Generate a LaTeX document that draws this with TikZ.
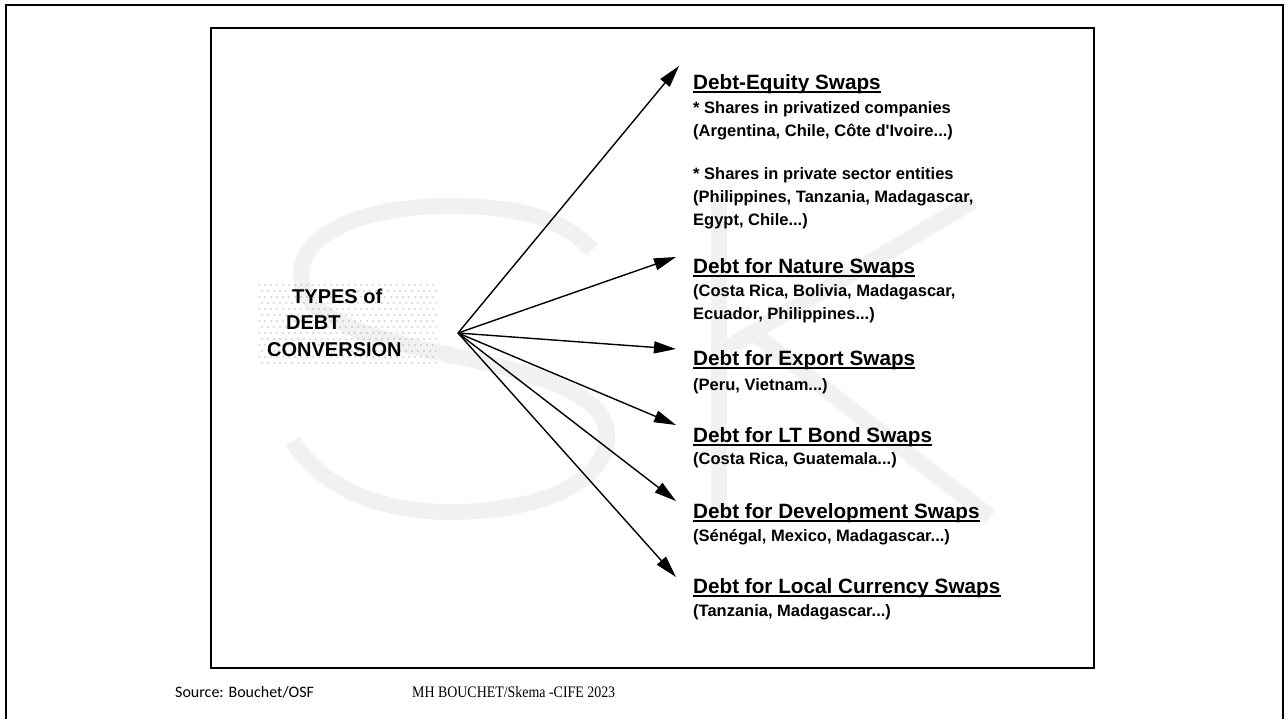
\documentclass[tikz,border=0pt]{standalone}
\usepackage{fontspec}
\setmainfont{Liberation Sans}
\newfontfamily\srcfont{Carlito}
\newfontfamily\credfont{Liberation Serif}
\usepackage{graphicx}
\usetikzlibrary{arrows.meta}
\usetikzlibrary{positioning}
\tikzset{frame/.style = {line width = 2.6pt}}
\tikzset{wmark/.style = {wmgray, line width = 16pt}}
\tikzset{head/.style = {anchor = base west, inner sep = 0, font = \fontsize{20.7}{24}\selectfont\bfseries}}
\tikzset{sub/.style = {anchor = base west, inner sep = 0, font = \fontsize{16.5}{20}\selectfont\bfseries}}
\tikzset{boxtxt/.style = {anchor = base west, inner sep = 0, font = \fontsize{20}{24}\selectfont\bfseries}}
\tikzset{uline/.style = {line width = 1.3pt}}
\tikzset{swap/.style = {-{Triangle[length = 22pt, width = 12pt]}, line width = 1.4pt}}
\definecolor{wmgray}{RGB}{239, 242, 239}
\definecolor{dotgray}{RGB}{120, 120, 120}

\begin{document}
\begin{tikzpicture}[x=1pt, y=-1pt]
  \useasboundingbox (0, 0) rectangle (1287, 718);

  % watermark
  \draw [wmark] (592, 250) .. controls (560, 215) and (510, 206) .. (450, 206)
    .. controls (360, 206) and (301, 235) .. (301, 274)
    .. controls (301, 322) and (380, 340) .. (450, 355)
    .. controls (560, 378) and (607, 400) .. (607, 436)
    .. controls (607, 482) and (540, 512) .. (450, 512)
    .. controls (370, 512) and (315, 480) .. (293, 441);
  \draw [wmark] (719, 198) -- (719, 515);
  \draw [wmark] (973, 201) -- (727, 348);
  \draw [wmark] (752, 332) -- (990, 517);

  % frames
  \draw [frame] (6, 720) -- (6, 5) -- (1283, 5) -- (1283, 720);
  \draw [frame] (211, 28) rectangle (1094, 668);

  % dotted box
  \foreach \j in {0, ..., 13} {
    \pgfmathsetmacro{\off}{mod(\j, 2)*3}
    \foreach \i in {0, ..., 29}
      \fill [dotgray] ({259 + \off + \i*6}, {285 + \j*6}) circle (0.65);
  }
  \node [boxtxt] (types) at (292, 303) {TYPES of};
  \node [boxtxt] (debt) at (286, 329) {DEBT};
  \node [boxtxt] (conv) at (267, 356) {CONVERSION};

  % right column
  \node [head] (equity) at (693, 89) {Debt-Equity Swaps};
  \node [sub] (eq1) at (693, 113) {* Shares in privatized companies};
  \node [sub] (eq2) at (693, 136) {(Argentina, Chile, Côte d\textquotesingle Ivoire...)};
  \node [sub] (eq3) at (693, 179) {* Shares in private sector entities};
  \node [sub] (eq4) at (693, 202) {(Philippines, Tanzania, Madagascar,};
  \node [sub] (eq5) at (693, 225) {Egypt, Chile...)};

  \node [head] (nature) at (693, 273) {Debt for Nature Swaps};
  \node [sub] (na1) at (693, 296) {(Costa Rica, Bolivia, Madagascar,};
  \node [sub] (na2) at (693, 319) {Ecuador, Philippines...)};

  \node [head] (export) at (693, 365) {Debt for Export Swaps};
  \node [sub] (ex1) at (693, 390) {(Peru, Vietnam...)};

  \node [head] (bond) at (693, 442) {Debt for LT Bond Swaps};
  \node [sub] (bo1) at (693, 464) {(Costa Rica, Guatemala...)};

  \node [head] (devel) at (693, 518) {Debt for Development Swaps};
  \node [sub] (de1) at (693, 541) {(Sénégal, Mexico, Madagascar...)};

  \node [head] (local) at (693, 593) {Debt for Local Currency Swaps};
  \node [sub] (lo1) at (693, 616) {(Tanzania, Madagascar...)};

  \foreach \h in {equity, nature, export, bond, devel, local}
    \draw [uline] ([yshift=-3pt]\h.base west) -- ([yshift=-3pt]\h.base east);

  % arrows
  \coordinate (hub) at (458, 333);
  \coordinate (tipeq) at (679, 66);
  \coordinate (tipna) at (676, 257);
  \coordinate (tipex) at (676, 349);
  \coordinate (tipbo) at (676, 425);
  \coordinate (tipde) at (676, 501);
  \coordinate (tiplo) at (676, 577);
  \foreach \t in {tipeq, tipna, tipex, tipbo, tipde, tiplo}
    \draw [swap] (hub) -- (\t);

  % footer
  \node [anchor = base west, inner sep = 0, font = \srcfont\fontsize{16}{19}\selectfont] (source) at (175, 697) {Source: Bouchet/OSF};
  \node [anchor = base west, inner sep = 0, font = \credfont\fontsize{16}{19}\selectfont] (credit) at (412, 697) {\scalebox{0.87}[1]{MH BOUCHET/Skema -CIFE 2023}};
\end{tikzpicture}
\end{document}
